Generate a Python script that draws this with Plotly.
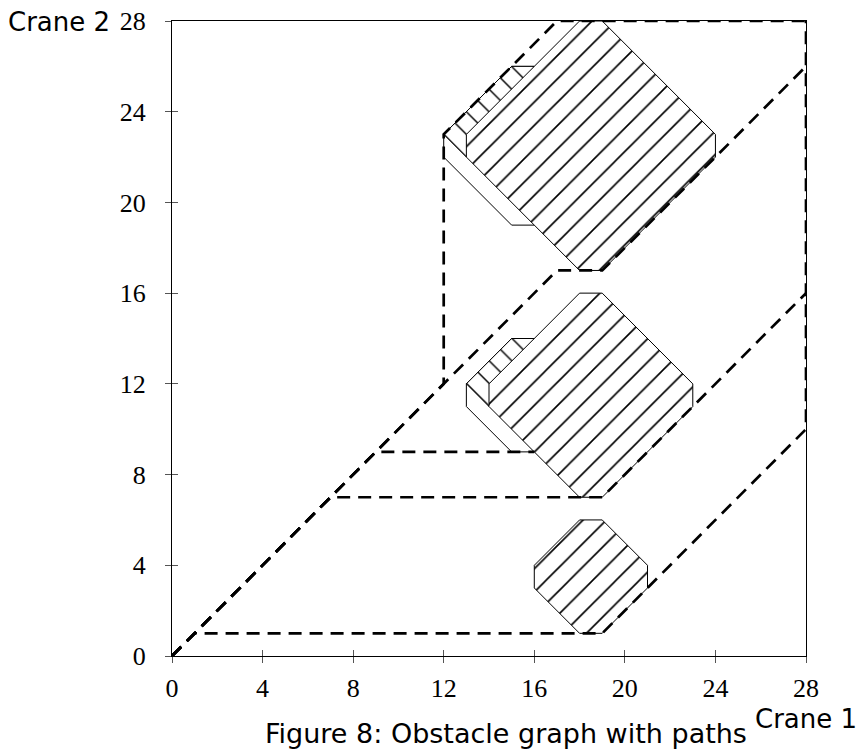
import plotly.graph_objects as go

# ---- data ----
x_ticks = [0, 4, 8, 12, 16, 20, 24, 28]
y_ticks = [0, 4, 8, 12, 16, 20, 24, 28]

# obstacles (vertex lists)
white_mid_x = [13, 13, 15, 16, 18, 18, 16, 15]
white_mid_y = [11, 12, 14, 14, 12, 11, 9, 9]
white_top_x = [12, 12, 15, 16, 19, 19, 16, 15]
white_top_y = [22, 23, 26, 26, 23, 22, 19, 19]

back_mid_x = [13, 15, 16, 14]
back_mid_y = [12, 14, 14, 11]
back_top_x = [12, 15, 16, 13]
back_top_y = [23, 26, 26, 22]

main_top_x = [13, 13, 18, 19, 24, 24, 19, 18]
main_top_y = [22, 23, 28, 28, 23, 22, 17, 17]
main_mid_x = [14, 14, 18, 19, 23, 23, 19, 18]
main_mid_y = [11, 12, 16, 16, 12, 11, 7, 7]
main_bot_x = [16, 16, 18, 19, 21, 21, 19, 18]
main_bot_y = [3, 4, 6, 6, 4, 3, 1, 1]

# paths
path_a_x = [0, 1, 18, 19, 28, 28]
path_a_y = [0, 1, 1, 1, 10, 28]
path_b_x = [0, 7, 18, 19, 28]
path_b_y = [0, 7, 7, 7, 16]
path_c_x = [0, 9, 16]
path_c_y = [0, 9, 9]
path_d_x = [0, 12, 12, 17, 28]
path_d_y = [0, 12, 23, 28, 28]
path_e_x = [0, 17, 19, 28]
path_e_y = [0, 17, 17, 26]

fig = go.Figure()

def poly(xs, ys, pattern=None):
    kw = dict(x=xs + [xs[0]], y=ys + [ys[0]], mode="lines", fill="toself",
              line=dict(color="black", width=1), hoverinfo="skip", showlegend=False,
              fillcolor="white")
    if pattern is not None:
        kw["fillpattern"] = pattern
    fig.add_trace(go.Scatter(**kw))

bs = dict(shape="\\", size=16, solidity=0.09, fgcolor="black", bgcolor="white", fillmode="replace")
fs = dict(shape="/", size=16.5, solidity=0.1, fgcolor="black", bgcolor="white", fillmode="replace")

poly(white_mid_x, white_mid_y)
poly(white_top_x, white_top_y)
poly(back_mid_x, back_mid_y, bs)
poly(back_top_x, back_top_y, bs)
poly(main_top_x, main_top_y, fs)
poly(main_mid_x, main_mid_y, fs)
poly(main_bot_x, main_bot_y, fs)

for px_, py_ in [(path_a_x, path_a_y), (path_b_x, path_b_y), (path_c_x, path_c_y),
                 (path_d_x, path_d_y), (path_e_x, path_e_y)]:
    fig.add_trace(go.Scatter(x=px_, y=py_, mode="lines", showlegend=False, hoverinfo="skip",
                             line=dict(color="black", width=2.7, dash="13px,8px")))

# dummy trace for secondary axes (inside ticks)
fig.add_trace(go.Scatter(x=[0], y=[0], xaxis="x2", yaxis="y2", mode="markers",
                         marker=dict(opacity=0), showlegend=False, hoverinfo="skip"))

tickfont = dict(family="Liberation Serif", size=26, color="black")
sans = dict(family="DejaVu Sans", size=26, color="black")
fig.update_layout(
    width=857, height=751,
    margin=dict(l=172, r=51, t=21, b=95),
    paper_bgcolor="white", plot_bgcolor="white",
    xaxis=dict(range=[0, 28], tickvals=x_ticks, ticktext=[str(v) for v in x_ticks],
               showgrid=False, zeroline=False, showline=True, mirror=True, linecolor="black",
               linewidth=1, ticks="outside", ticklen=6, tickcolor="#555", tickwidth=1,
               tickfont=tickfont, ticklabelstandoff=3, automargin=False),
    yaxis=dict(range=[0, 28], tickvals=y_ticks, ticktext=[str(v) for v in y_ticks],
               showgrid=False, zeroline=False, showline=True, mirror=True, linecolor="black",
               linewidth=1, ticks="outside", ticklen=6, tickcolor="#555", tickwidth=1,
               tickfont=tickfont, ticklabelstandoff=14, automargin=False),
    xaxis2=dict(range=[0, 28], overlaying="x", side="bottom", tickvals=x_ticks,
                showticklabels=False, showgrid=False, zeroline=False, ticks="inside",
                ticklen=6, tickcolor="#555", tickwidth=1, showline=False),
    yaxis2=dict(range=[0, 28], overlaying="y", side="left", tickvals=y_ticks,
                showticklabels=False, showgrid=False, zeroline=False, ticks="inside",
                ticklen=6, tickcolor="#555", tickwidth=1, showline=False),
    annotations=[
        dict(text="Crane 2", xref="paper", yref="paper", x=0, y=1, xshift=-60, yshift=-1,
             xanchor="right", yanchor="middle", showarrow=False, font=sans),
        dict(text="Crane 1", xref="paper", yref="paper", x=1, y=0, xshift=0, yshift=-63,
             xanchor="center", yanchor="middle", showarrow=False, font=sans),
        dict(text="Figure 8: Obstacle graph with paths", xref="paper", yref="paper",
             x=0.5, y=0, xshift=17, yshift=-77, xanchor="center", yanchor="middle",
             showarrow=False, font=dict(family="DejaVu Sans", size=27, color="black")),
    ],
)

fig.write_html("out.html", config={"displayModeBar": False},
               post_script="document.body.style.margin='0';")
